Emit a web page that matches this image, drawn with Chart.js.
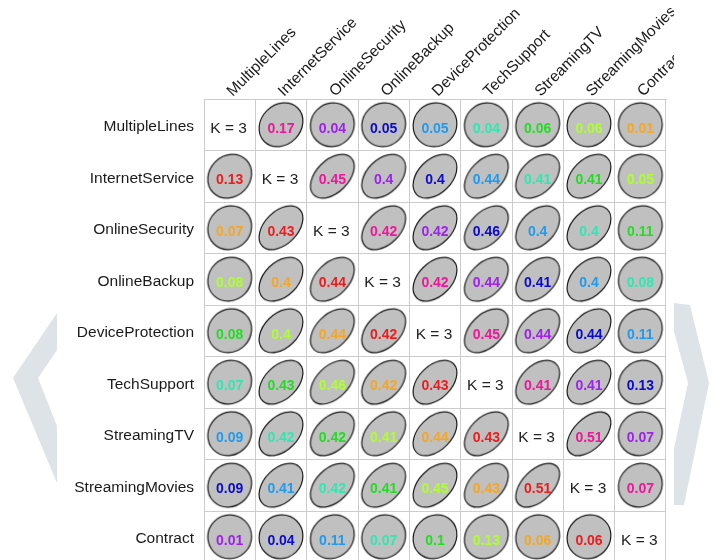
<!DOCTYPE html>
<html>
<head>
<meta charset="utf-8">
<title>Matriz de asociación</title>
<script src="https://cdn.jsdelivr.net/npm/chart.js@4.4.1/dist/chart.umd.min.js"></script>
<style>
    html, body { margin: 0; padding: 0; background: #fff; overflow: hidden; }
    #wrap { position: relative; width: 713px; height: 560px; overflow: hidden; }
    #fondo { position: absolute; left: 0; top: 0; }
    #matriz { position: absolute; left: 57px; top: 0; background: #fff; }
</style>
</head>
<body>
<div id="wrap">
    <svg id="fondo" width="713" height="560">
        <polygon points="57,313 13,378 57,483 57,426 38,378 57,350" fill="#dde3e7"/>
        <polygon points="666,302 690,305 709,383 684,505 662,505 688,383" fill="#dde3e7"/>
    </svg>
    <canvas id="matriz" width="617" height="580"></canvas>
</div>
<script>
"use strict";

const variables = [
    "MultipleLines", "InternetService", "OnlineSecurity", "OnlineBackup",
    "DeviceProtection", "TechSupport", "StreamingTV", "StreamingMovies", "Contract"
];

// valores por fila (null en la diagonal)
const multipleLines    = [null, 0.17, 0.04, 0.05, 0.05, 0.04, 0.06, 0.06, 0.01];
const internetService  = [0.13, null, 0.45, 0.4, 0.4, 0.44, 0.41, 0.41, 0.05];
const onlineSecurity   = [0.07, 0.43, null, 0.42, 0.42, 0.46, 0.4, 0.4, 0.11];
const onlineBackup     = [0.08, 0.4, 0.44, null, 0.42, 0.44, 0.41, 0.4, 0.08];
const deviceProtection = [0.08, 0.4, 0.44, 0.42, null, 0.45, 0.44, 0.44, 0.11];
const techSupport      = [0.07, 0.43, 0.46, 0.42, 0.43, null, 0.41, 0.41, 0.13];
const streamingTV      = [0.09, 0.42, 0.42, 0.41, 0.44, 0.43, null, 0.51, 0.07];
const streamingMovies  = [0.09, 0.41, 0.42, 0.41, 0.45, 0.43, 0.51, null, 0.07];
const contract         = [0.01, 0.04, 0.11, 0.07, 0.1, 0.13, 0.06, 0.06, null];

const filas = [
    multipleLines, internetService, onlineSecurity, onlineBackup,
    deviceProtection, techSupport, streamingTV, streamingMovies, contract
];

// niveles de cada variable (texto de la diagonal)
const nivelesK = [3, 3, 3, 3, 3, 3, 3, 3, 3];

const paleta = [
    "#ee1c1c", "#f5a623", "#adff2f", "#22dd22", "#2ee8b0",
    "#1e9bf0", "#0a0ad0", "#a020f0", "#f0169a"
];

const fuente = "'Liberation Sans', Arial, sans-serif";

/**
 * Puntos de la matriz
 */
const puntos = [];
let contador = 0;
filas.forEach((fila, i) => {
    fila.forEach((valor, j) => {
        if (valor === null) return;
        puntos.push({ x: variables[j], y: variables[i], v: valor, k: contador });
        contador++;
    });
});

function colorTexto(k) {
    return paleta[(((8 - k) % 9) + 9) % 9];
}

const cacheElipses = {};
function elipse(v) {
    if (cacheElipses[v]) return cacheElipses[v];
    const lado = 52;
    const c = document.createElement("canvas");
    c.width = lado;
    c.height = lado;
    const g = c.getContext("2d");
    const R = 21.9;
    g.translate(lado / 2, lado / 2);
    g.rotate(-Math.PI / 4);
    g.beginPath();
    g.ellipse(0, 0, R * Math.sqrt(1 + v), R * Math.sqrt(1 - v), 0, 0, Math.PI * 2);
    g.fillStyle = "#c0c0c0";
    g.fill();
    g.lineWidth = 1.2;
    g.strokeStyle = "#1a1a1a";
    g.stroke();
    cacheElipses[v] = c;
    return c;
}

/**
 * Textos de las celdas y nombres de filas / columnas
 */
const textos = {
    id: "textos",
    afterDatasetsDraw(chart) {
        const ctx = chart.ctx;
        const meta = chart.getDatasetMeta(0);
        const sx = chart.scales.x;
        const sy = chart.scales.y;
        ctx.save();
        ctx.textAlign = "center";
        ctx.textBaseline = "alphabetic";
        ctx.font = "bold 14px " + fuente;
        meta.data.forEach((el, n) => {
            const p = puntos[n];
            ctx.fillStyle = colorTexto(p.k);
            ctx.fillText(String(p.v), el.x, el.y + 8);
        });
        ctx.font = "15.5px " + fuente;
        ctx.fillStyle = "#222";
        nivelesK.forEach((k, i) => {
            ctx.fillText("K = " + k, sx.getPixelForValue(i) - 1, sy.getPixelForValue(i) + 8);
        });

        ctx.fillStyle = "#1a1a1a";
        ctx.textAlign = "right";
        variables.forEach((v, i) => {
            ctx.fillText(v, sx.left - 10, sy.getPixelForValue(i) + 6.5);
        });
        ctx.textAlign = "left";
        variables.forEach((v, i) => {
            ctx.save();
            ctx.translate(sx.getPixelForValue(i) + 3, sy.top - 2);
            ctx.rotate(-Math.PI / 4);
            ctx.fillText(v, 0, 0);
            ctx.restore();
        });
        ctx.restore();
    }
};

const matriz = document.querySelector("#matriz");

new Chart(matriz, {
    type: "scatter",
    data: {
        datasets: [{
            data: puntos,
            pointStyle: (c) => elipse(c.raw.v),
            pointRadius: 20,
            pointHoverRadius: 20
        }]
    },
    options: {
        responsive: false,
        animation: false,
        events: [],
        layout: {
            autoPadding: false,
            padding: { left: 0, right: 8, top: 0, bottom: 17.5 }
        },
        plugins: {
            legend: { display: false },
            tooltip: { enabled: false }
        },
        scales: {
            x: {
                type: "category",
                labels: variables,
                position: "top",
                offset: true,
                grid: { offset: true, color: "#cccccc", drawTicks: false },
                border: { color: "#cccccc" },
                ticks: { display: false },
                afterFit: (s) => { s.height = 99; }
            },
            y: {
                type: "category",
                labels: variables,
                offset: true,
                grid: { offset: true, color: "#cccccc", drawTicks: false },
                border: { color: "#cccccc" },
                ticks: { display: false },
                afterFit: (s) => { s.width = 147; }
            }
        }
    },
    plugins: [textos]
});
</script>
</body>
</html>
